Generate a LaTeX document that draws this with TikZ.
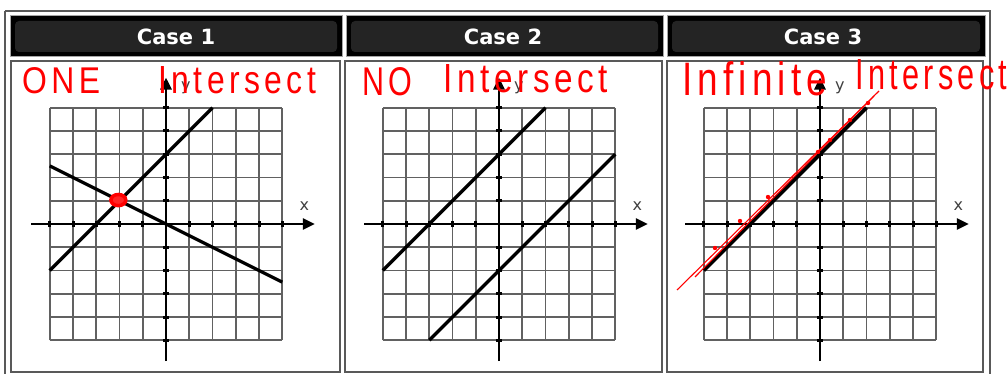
\documentclass[tikz,border=0pt]{standalone}
\usepackage{fontspec}
\usepackage{graphicx}
\usetikzlibrary{arrows.meta}
\newfontfamily\hdfont{DejaVu Sans}
\newfontfamily\handfont[LetterSpace=14]{Liberation Sans}

\tikzset{
 tableline/.style={draw=black!65, line width=1.6pt},
 headcell/.style={draw=black!35, line width=1pt, fill=black},
 headinner/.style={fill=black!86, rounded corners=4pt},
 headtext/.style={text=white, font=\hdfont\bfseries\fontsize{21}{21}\selectfont, inner sep=0pt},
 gridline/.style={draw=black!62, line width=1.8pt},
 axisline/.style={draw=black, line width=2.8pt, -{Triangle[length=12pt,width=11pt]}},
 tickmark/.style={draw=black, line width=3pt},
 graphline/.style={draw=black, line width=3.2pt},
 axislabel/.style={text=black!75, font=\hdfont\fontsize{16}{16}\selectfont, inner sep=0pt},
 hand/.style={text=red, inner sep=0pt, anchor=base west},
 redpen/.style={draw=red, line width=1.1pt},
 reddot/.style={fill=red},
}

\newcommand\panelcontent[1]{%
  \draw[gridline, step={(1,1)}] (-5,-5) grid (5,5);
  \draw[axisline] (-5.8,0) -- (6.4,0);
  \draw[axisline] (0,-5.9) -- (0,6.3);
  \foreach \i in {-5,...,-1,1,2,3,4,5} {
    \draw[tickmark] (\i,-0.13) -- (\i,0.13);
    \draw[tickmark] (-0.13,\i) -- (0.13,\i);
  }
  \node[axislabel] (#1x) at (5.95,0.75) {x};
  \node[axislabel] (#1y) at (0.85,5.85) {y};
}

\begin{document}
\begin{tikzpicture}[x=1pt,y=-1pt]
\useasboundingbox (0,0) rectangle (1008,374);
\fill[white] (0,0) rectangle (1008,374);

% outer table
\draw[tableline] (5,11) -- (990,11) -- (990,390) (5,11) -- (5,390);

% header cells
\draw[headcell] (10,16) rectangle (342,57);
\draw[headcell] (346,16) rectangle (663,57);
\draw[headcell] (667,16) rectangle (985,57);
\fill[headinner] (15,21) rectangle (337,52);
\fill[headinner] (351,21) rectangle (658,52);
\fill[headinner] (672,21) rectangle (980,52);
\node[headtext] (h1) at (176,37) {Case 1};
\node[headtext] (h2) at (503,37) {Case 2};
\node[headtext] (h3) at (823,37) {Case 3};

% body cells
\draw[tableline] (11,61) rectangle (340,372);
\draw[tableline] (345,61) rectangle (662,372);
\draw[tableline] (667,61) rectangle (983,372);

% panel 1
\begin{scope}[shift={(166,224)}, x=23.25pt, y=23.25pt]
  \panelcontent{p1}
  \coordinate (p1a) at (-5,-2);
  \coordinate (p1b) at (2,5);
  \coordinate (p1c) at (-5,2.5);
  \coordinate (p1d) at (5,-2.5);
  \draw[graphline] (p1a) -- (p1b);
  \draw[graphline] (p1c) -- (p1d);
  \draw[red, line width=3.5pt, fill=red!85] (-2.05,1.03) ellipse [x radius=0.32, y radius=0.24];
\end{scope}

% panel 2
\begin{scope}[shift={(499,224)}, x=23.25pt, y=23.25pt]
  \panelcontent{p2}
  \coordinate (p2a) at (-5,-2);
  \coordinate (p2b) at (2,5);
  \coordinate (p2c) at (-3,-5);
  \coordinate (p2d) at (5,3);
  \draw[graphline] (p2a) -- (p2b);
  \draw[graphline] (p2c) -- (p2d);
\end{scope}

% panel 3
\begin{scope}[shift={(820,224)}, x=23.25pt, y=23.25pt]
  \panelcontent{p3}
  \coordinate (p3a) at (-5,-2);
  \coordinate (p3b) at (2,5);
  \draw[graphline, line width=3.8pt] (p3a) -- (p3b);
\end{scope}

% red annotations
\coordinate (r1s) at (677,290);
\coordinate (r1e) at (879,91);
\coordinate (r2s) at (695,277);
\coordinate (r2e) at (874,96);
\draw[redpen] (r1s) -- (r1e);
\draw[redpen] (r2s) -- (r2e);
\foreach \p in {(715,248),(740,221),(768,197),(818,152),(830,140),(850,120),(868,103)}
  \fill[reddot] \p circle (2.2);

\node[hand] (t1a) at (22,94) {\resizebox{78pt}{26pt}{\handfont ONE}};
\node[hand] (t1b) at (158,94) {\resizebox{158pt}{27pt}{\handfont Intersect}};
\node[hand] (t2a) at (362,96) {\resizebox{50pt}{28pt}{\handfont NO}};
\node[hand] (t2b) at (443,93) {\resizebox{165pt}{28pt}{\handfont Intersect}};
\node[hand] (t3a) at (682,96) {\resizebox{145pt}{34pt}{\handfont Infinite}};
\node[hand] (t3b) at (855,90) {\resizebox{152pt}{30pt}{\handfont Intersect}};
\end{tikzpicture}
\end{document}
